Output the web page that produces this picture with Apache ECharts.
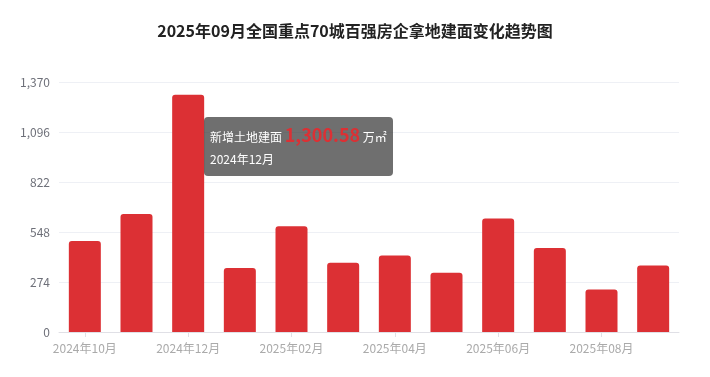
<!DOCTYPE html>
<html>
<head>
<meta charset="utf-8">
<script src="https://cdn.jsdelivr.net/npm/echarts@6/dist/echarts.min.js"></script>
<style>
  html, body { margin: 0; padding: 0; background: #fff; }
  #chart { width: 710px; height: 377px; }
</style>
</head>
<body>
<div id="chart"></div>
<script>
// 月份
var months = ['2024年10月', '2024年11月', '2024年12月', '2025年01月', '2025年02月', '2025年03月',
  '2025年04月', '2025年05月', '2025年06月', '2025年07月', '2025年08月', '2025年09月'];
// 新增土地建面（万㎡）
var areaValues = [498, 646, 1300.58, 351, 580, 380, 419, 325, 622, 461, 233, 365];
var yTicks = [0, 274, 548, 822, 1096, 1370];

var chart = echarts.init(document.getElementById('chart'));
var fontFamily = '"Noto Sans CJK SC", "Noto Sans", sans-serif';

function fmt(v) {
  return Number(v).toLocaleString('en-US', { minimumFractionDigits: 2, maximumFractionDigits: 2 });
}

var option = {
  animation: false,
  textStyle: { fontFamily: fontFamily },
  title: {
    text: '2025年09月全国重点70城百强房企拿地建面变化趋势图',
    left: 'center',
    top: 18,
    textStyle: { fontSize: 16, fontWeight: 'bold', color: '#222', fontFamily: fontFamily }
  },
  tooltip: {
    trigger: 'axis',
    axisPointer: { type: 'none' },
    backgroundColor: 'rgba(50,50,50,0.7)',
    borderWidth: 0,
    padding: [6, 6],
    extraCssText: 'border-radius:4px;box-shadow:none;',
    position: [204, 117],
    textStyle: { color: '#fff', fontSize: 12, fontFamily: fontFamily },
    formatter: function (params) {
      var p = params[0];
      return '<div style="line-height:22px">新增土地建面 <span style="color:#dc3034;font-size:18px;font-weight:bold;">' +
        fmt(p.value) + '</span> 万㎡<br/>' + p.name + '</div>';
    }
  },
  grid: { left: 59, right: 31, top: 82, bottom: 45 },
  xAxis: {
    type: 'category',
    data: months,
    axisLine: { lineStyle: { color: '#e0e0e6' } },
    axisTick: { show: true, alignWithLabel: true, interval: 1, lineStyle: { color: '#e0e0e6' } },
    axisLabel: { interval: 1, color: '#aaa', fontSize: 12, margin: 10 }
  },
  yAxis: {
    type: 'value',
    min: yTicks[0],
    max: yTicks[yTicks.length - 1],
    interval: yTicks[1] - yTicks[0],
    axisLine: { show: false },
    axisTick: { show: false },
    axisLabel: {
      color: '#6e7079', fontSize: 12, margin: 9,
      formatter: function (v) { return Number(v).toLocaleString('en-US'); }
    },
    splitLine: { lineStyle: { color: '#eef0f5' } }
  },
  series: [{
    name: '新增土地建面',
    type: 'bar',
    barWidth: 32,
    data: areaValues,
    emphasis: { disabled: true },
    itemStyle: { color: '#dc3034', borderRadius: [3, 3, 0, 0] }
  }]
};
chart.setOption(option);
chart.dispatchAction({ type: 'showTip', seriesIndex: 0, dataIndex: 2 });
</script>
</body>
</html>
